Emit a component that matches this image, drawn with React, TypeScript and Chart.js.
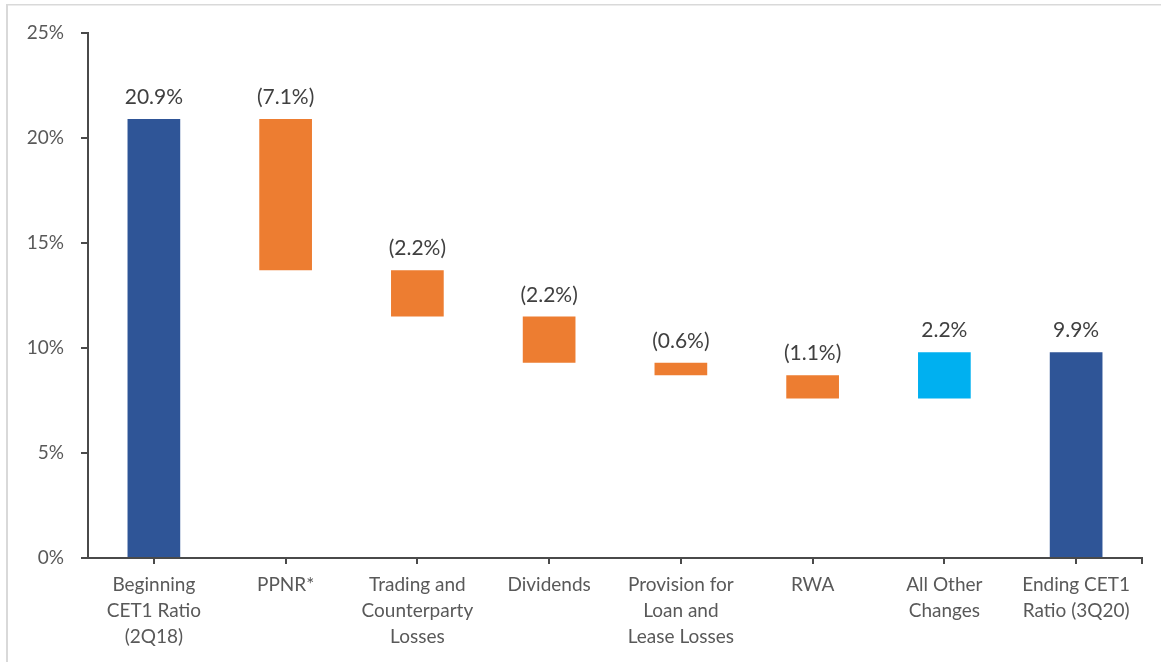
import React, { useEffect, useRef } from "react";
import { Chart, registerables } from "chart.js";

Chart.register(...registerables);

const categories: string[][] = [
  ["Beginning", "CET1 Ratio", "(2Q18)"],
  ["PPNR*"],
  ["Trading and", "Counterparty", "Losses"],
  ["Dividends"],
  ["Provision for", "Loan and", "Lease Losses"],
  ["RWA"],
  ["All Other", "Changes"],
  ["Ending CET1", "Ratio (3Q20)"],
];
const barStart: number[] = [0, 20.9, 13.7, 11.5, 9.3, 8.7, 7.6, 0];
const barEnd: number[] = [20.9, 13.7, 11.5, 9.3, 8.7, 7.6, 9.8, 9.8];
const valueLabels: string[] = ["20.9%", "(7.1%)", "(2.2%)", "(2.2%)", "(0.6%)", "(1.1%)", "2.2%", "9.9%"];
const barColors: string[] = ["#2F5597", "#ED7D31", "#ED7D31", "#ED7D31", "#ED7D31", "#ED7D31", "#00B0F0", "#2F5597"];
const yTicks: number[] = [0, 5, 10, 15, 20, 25];

const FONT = "Lato, 'Open Sans', sans-serif";
const AXIS = "#4a4a4a";

export default function App() {
  const ref = useRef<HTMLCanvasElement | null>(null);
  useEffect(() => {
    if (!ref.current) return;
    const framePlugin = {
      id: "frame",
      beforeDraw(chart: any) {
        const ctx = chart.ctx;
        ctx.save();
        ctx.fillStyle = "#ffffff";
        ctx.fillRect(0, 0, chart.width, chart.height);
        ctx.fillStyle = "#d9d9d9";
        ctx.fillRect(6, 4, 2, chart.height - 4);
        ctx.fillRect(6, 4, chart.width - 6, 1.5);
        ctx.restore();
      },
      afterDraw(chart: any) {
        const ctx = chart.ctx;
        const a = chart.chartArea;
        ctx.save();
        ctx.strokeStyle = AXIS;
        ctx.lineWidth = 2;
        ctx.beginPath();
        ctx.moveTo(a.right, a.bottom);
        ctx.lineTo(a.right, a.bottom + 6);
        ctx.stroke();
        ctx.restore();
      },
      afterDatasetsDraw(chart: any) {
        const ctx = chart.ctx;
        const meta = chart.getDatasetMeta(0);
        ctx.save();
        ctx.font = `21px ${FONT}`;
        ctx.fillStyle = "#404040";
        ctx.textAlign = "center";
        ctx.textBaseline = "alphabetic";
        meta.data.forEach((el: any, i: number) => {
          const top = Math.min(el.y, el.base);
          ctx.fillText(valueLabels[i], el.x, top - 15);
        });
        ctx.restore();
      },
    };
    const chart = new Chart(ref.current, {
      type: "bar",
      data: {
        labels: categories,
        datasets: [
          {
            data: barStart.map((s, i) => [s, barEnd[i]]) as any,
            backgroundColor: barColors,
            borderWidth: 0,
            borderSkipped: false,
            barPercentage: 0.4,
            categoryPercentage: 1,
          },
        ],
      },
      options: {
        responsive: false,
        animation: false,
        devicePixelRatio: 1,
        layout: { padding: { left: 0, top: 33, right: 19, bottom: 0 } },
        plugins: { legend: { display: false }, tooltip: { enabled: false } },
        scales: {
          x: {
            afterFit(scale: any) {
              scale.height = 104;
            },
            grid: {
              display: true,
              drawOnChartArea: false,
              drawTicks: true,
              tickLength: 6,
              offset: false,
              color: AXIS,
              lineWidth: 2,
            },
            border: { display: true, color: AXIS, width: 2 },
            ticks: {
              color: "#595959",
              padding: 8,
              maxRotation: 0,
              autoSkip: false,
              font: { family: FONT, size: 19, lineHeight: 26 / 19 },
            },
          },
          y: {
            min: 0,
            max: 25,
            afterFit(scale: any) {
              scale.width = 88;
            },
            afterBuildTicks(scale: any) {
              scale.ticks = yTicks.map((v) => ({ value: v }));
            },
            grid: {
              display: true,
              drawOnChartArea: false,
              drawTicks: true,
              tickLength: 7,
              color: AXIS,
              lineWidth: 2,
            },
            border: { display: true, color: AXIS, width: 2 },
            ticks: {
              color: "#595959",
              padding: 17,
              font: { family: FONT, size: 19 },
              callback: (v: any) => `${v}%`,
            },
          },
        },
      },
      plugins: [framePlugin],
    });
    return () => chart.destroy();
  }, []);
  return (
    <div style={{ position: "fixed", left: 0, top: 0, width: 1161, height: 662 }}>
      <canvas ref={ref} width={1161} height={662} style={{ display: "block" }} />
    </div>
  );
}
